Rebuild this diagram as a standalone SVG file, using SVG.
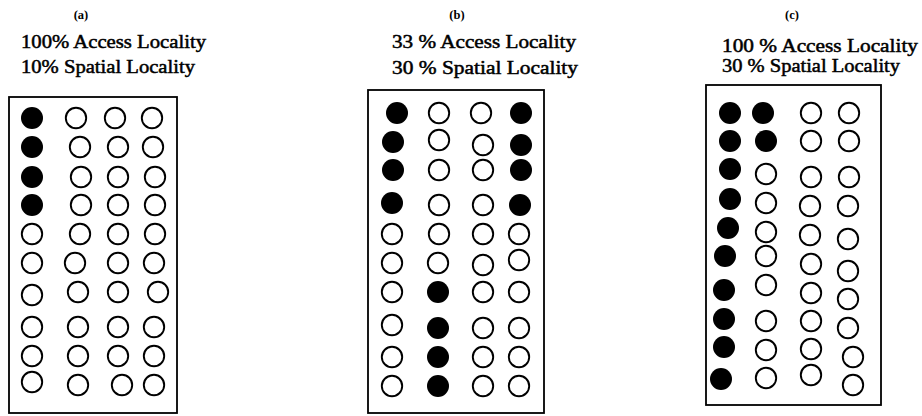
<svg xmlns="http://www.w3.org/2000/svg" width="922" height="416" viewBox="0 0 922 416">
<style>
.lbl{font-family:"Liberation Serif","Times New Roman",serif;font-size:12.5px;font-weight:bold;text-anchor:middle;fill:#000}
.t{font-family:"Liberation Serif","Times New Roman",serif;font-size:19px;fill:#000;stroke:#000;stroke-width:0.5}
.box{fill:none;stroke:#000;stroke-width:1.8}
.f{fill:#000}
.o{fill:#fff;stroke:#000;stroke-width:1.9}
</style>
<rect width="922" height="416" fill="#fff"/>
<g id="panel-a">
<text class="lbl" x="81" y="19">(a)</text>
<text class="t" x="21" y="48" textLength="185" lengthAdjust="spacingAndGlyphs">100% Access Locality</text>
<text class="t" x="21" y="73" textLength="174" lengthAdjust="spacingAndGlyphs">10% Spatial Locality</text>
<rect class="box" x="9" y="97" width="168" height="316"/>
<g id="grid-a">
<circle class="f" cx="32" cy="118" r="11"/><circle class="o" cx="76" cy="118" r="10.2"/><circle class="o" cx="115" cy="118" r="10.2"/><circle class="o" cx="152" cy="118" r="10.2"/>
<circle class="f" cx="32" cy="147" r="11"/><circle class="o" cx="80" cy="147" r="10.2"/><circle class="o" cx="118" cy="147" r="10.2"/><circle class="o" cx="153" cy="147" r="10.2"/>
<circle class="f" cx="32" cy="177" r="11"/><circle class="o" cx="81" cy="177" r="10.2"/><circle class="o" cx="118" cy="177" r="10.2"/><circle class="o" cx="155" cy="177" r="10.2"/>
<circle class="f" cx="32" cy="205" r="11"/><circle class="o" cx="81" cy="205" r="10.2"/><circle class="o" cx="118" cy="205" r="10.2"/><circle class="o" cx="155" cy="205" r="10.2"/>
<circle class="o" cx="32" cy="234" r="10.2"/><circle class="o" cx="80" cy="234" r="10.2"/><circle class="o" cx="118" cy="234" r="10.2"/><circle class="o" cx="155" cy="234" r="10.2"/>
<circle class="o" cx="32" cy="263" r="10.2"/><circle class="o" cx="75" cy="263" r="10.2"/><circle class="o" cx="118" cy="263" r="10.2"/><circle class="o" cx="154" cy="263" r="10.2"/>
<circle class="o" cx="32" cy="295" r="10.2"/><circle class="o" cx="78" cy="292" r="10.2"/><circle class="o" cx="118" cy="292" r="10.2"/><circle class="o" cx="158" cy="292" r="10.2"/>
<circle class="o" cx="32" cy="327" r="10.2"/><circle class="o" cx="78" cy="327" r="10.2"/><circle class="o" cx="118" cy="327" r="10.2"/><circle class="o" cx="154" cy="327" r="10.2"/>
<circle class="o" cx="32" cy="356" r="10.2"/><circle class="o" cx="78" cy="356" r="10.2"/><circle class="o" cx="118" cy="356" r="10.2"/><circle class="o" cx="154" cy="356" r="10.2"/>
<circle class="o" cx="32" cy="382" r="10.2"/><circle class="o" cx="78" cy="385" r="10.2"/><circle class="o" cx="122" cy="385" r="10.2"/><circle class="o" cx="154" cy="385" r="10.2"/>
</g>
</g>
<g id="panel-b">
<text class="lbl" x="457" y="19">(b)</text>
<text class="t" x="392" y="48" textLength="184" lengthAdjust="spacingAndGlyphs">33 % Access Locality</text>
<text class="t" x="392" y="74" textLength="186" lengthAdjust="spacingAndGlyphs">30 % Spatial Locality</text>
<rect class="box" x="368" y="90" width="176" height="323"/>
<g id="grid-b">
<circle class="f" cx="397" cy="113" r="11"/><circle class="o" cx="439" cy="113" r="10.2"/><circle class="o" cx="481" cy="113" r="10.2"/><circle class="f" cx="521" cy="113" r="11"/>
<circle class="f" cx="393" cy="142" r="11"/><circle class="o" cx="439" cy="140" r="10.2"/><circle class="o" cx="483" cy="145" r="10.2"/><circle class="f" cx="521" cy="145" r="11"/>
<circle class="f" cx="393" cy="170" r="11"/><circle class="o" cx="439" cy="170" r="10.2"/><circle class="o" cx="483" cy="170" r="10.2"/><circle class="f" cx="521" cy="170" r="11"/>
<circle class="f" cx="392" cy="203" r="11"/><circle class="o" cx="439" cy="205" r="10.2"/><circle class="o" cx="483" cy="205" r="10.2"/><circle class="f" cx="520" cy="205" r="11"/>
<circle class="o" cx="392" cy="234" r="10.2"/><circle class="o" cx="439" cy="234" r="10.2"/><circle class="o" cx="483" cy="234" r="10.2"/><circle class="o" cx="519" cy="234" r="10.2"/>
<circle class="o" cx="392" cy="263" r="10.2"/><circle class="o" cx="438" cy="263" r="10.2"/><circle class="o" cx="483" cy="265" r="10.2"/><circle class="o" cx="519" cy="260" r="10.2"/>
<circle class="o" cx="392" cy="292" r="10.2"/><circle class="f" cx="438" cy="292" r="11"/><circle class="o" cx="483" cy="292" r="10.2"/><circle class="o" cx="519" cy="292" r="10.2"/>
<circle class="o" cx="392" cy="325" r="10.2"/><circle class="f" cx="438" cy="328" r="11"/><circle class="o" cx="483" cy="328" r="10.2"/><circle class="o" cx="519" cy="328" r="10.2"/>
<circle class="o" cx="392" cy="357" r="10.2"/><circle class="f" cx="438" cy="357" r="11"/><circle class="o" cx="483" cy="357" r="10.2"/><circle class="o" cx="519" cy="357" r="10.2"/>
<circle class="o" cx="392" cy="386" r="10.2"/><circle class="f" cx="438" cy="386" r="11"/><circle class="o" cx="483" cy="386" r="10.2"/><circle class="o" cx="519" cy="386" r="10.2"/>
</g>
</g>
<g id="panel-c">
<text class="lbl" x="792" y="19">(c)</text>
<text class="t" x="722" y="52" textLength="196" lengthAdjust="spacingAndGlyphs">100 % Access Locality</text>
<text class="t" x="722" y="72" textLength="178" lengthAdjust="spacingAndGlyphs">30 % Spatial Locality</text>
<rect class="box" x="706" y="85" width="175" height="320"/>
<g id="grid-c">
<circle class="f" cx="730" cy="113" r="11"/><circle class="f" cx="763" cy="113" r="11"/><circle class="o" cx="811" cy="113" r="10.2"/><circle class="o" cx="849" cy="113" r="10.2"/>
<circle class="f" cx="730" cy="141" r="11"/><circle class="f" cx="766" cy="141" r="11"/><circle class="o" cx="811" cy="141" r="10.2"/><circle class="o" cx="849" cy="141" r="10.2"/>
<circle class="f" cx="730" cy="169" r="11"/><circle class="o" cx="766" cy="174" r="10.2"/><circle class="o" cx="811" cy="177" r="10.2"/><circle class="o" cx="849" cy="177" r="10.2"/>
<circle class="f" cx="730" cy="199" r="11"/><circle class="o" cx="766" cy="203" r="10.2"/><circle class="o" cx="810" cy="206" r="10.2"/><circle class="o" cx="848" cy="206" r="10.2"/>
<circle class="f" cx="728" cy="228" r="11"/><circle class="o" cx="766" cy="232" r="10.2"/><circle class="o" cx="810" cy="235" r="10.2"/><circle class="o" cx="848" cy="239" r="10.2"/>
<circle class="f" cx="725" cy="256" r="11"/><circle class="o" cx="766" cy="256" r="10.2"/><circle class="o" cx="811" cy="264" r="10.2"/><circle class="o" cx="848" cy="271" r="10.2"/>
<circle class="f" cx="724" cy="290" r="11"/><circle class="o" cx="766" cy="285" r="10.2"/><circle class="o" cx="811" cy="293" r="10.2"/><circle class="o" cx="848" cy="299" r="10.2"/>
<circle class="f" cx="724" cy="319" r="11"/><circle class="o" cx="766" cy="321" r="10.2"/><circle class="o" cx="811" cy="321" r="10.2"/><circle class="o" cx="848" cy="328" r="10.2"/>
<circle class="f" cx="724" cy="347" r="11"/><circle class="o" cx="766" cy="350" r="10.2"/><circle class="o" cx="811" cy="349" r="10.2"/><circle class="o" cx="853" cy="357" r="10.2"/>
<circle class="f" cx="721" cy="379" r="11"/><circle class="o" cx="766" cy="378" r="10.2"/><circle class="o" cx="811" cy="375" r="10.2"/><circle class="o" cx="853" cy="385" r="10.2"/>
</g>
</g>
</svg>
